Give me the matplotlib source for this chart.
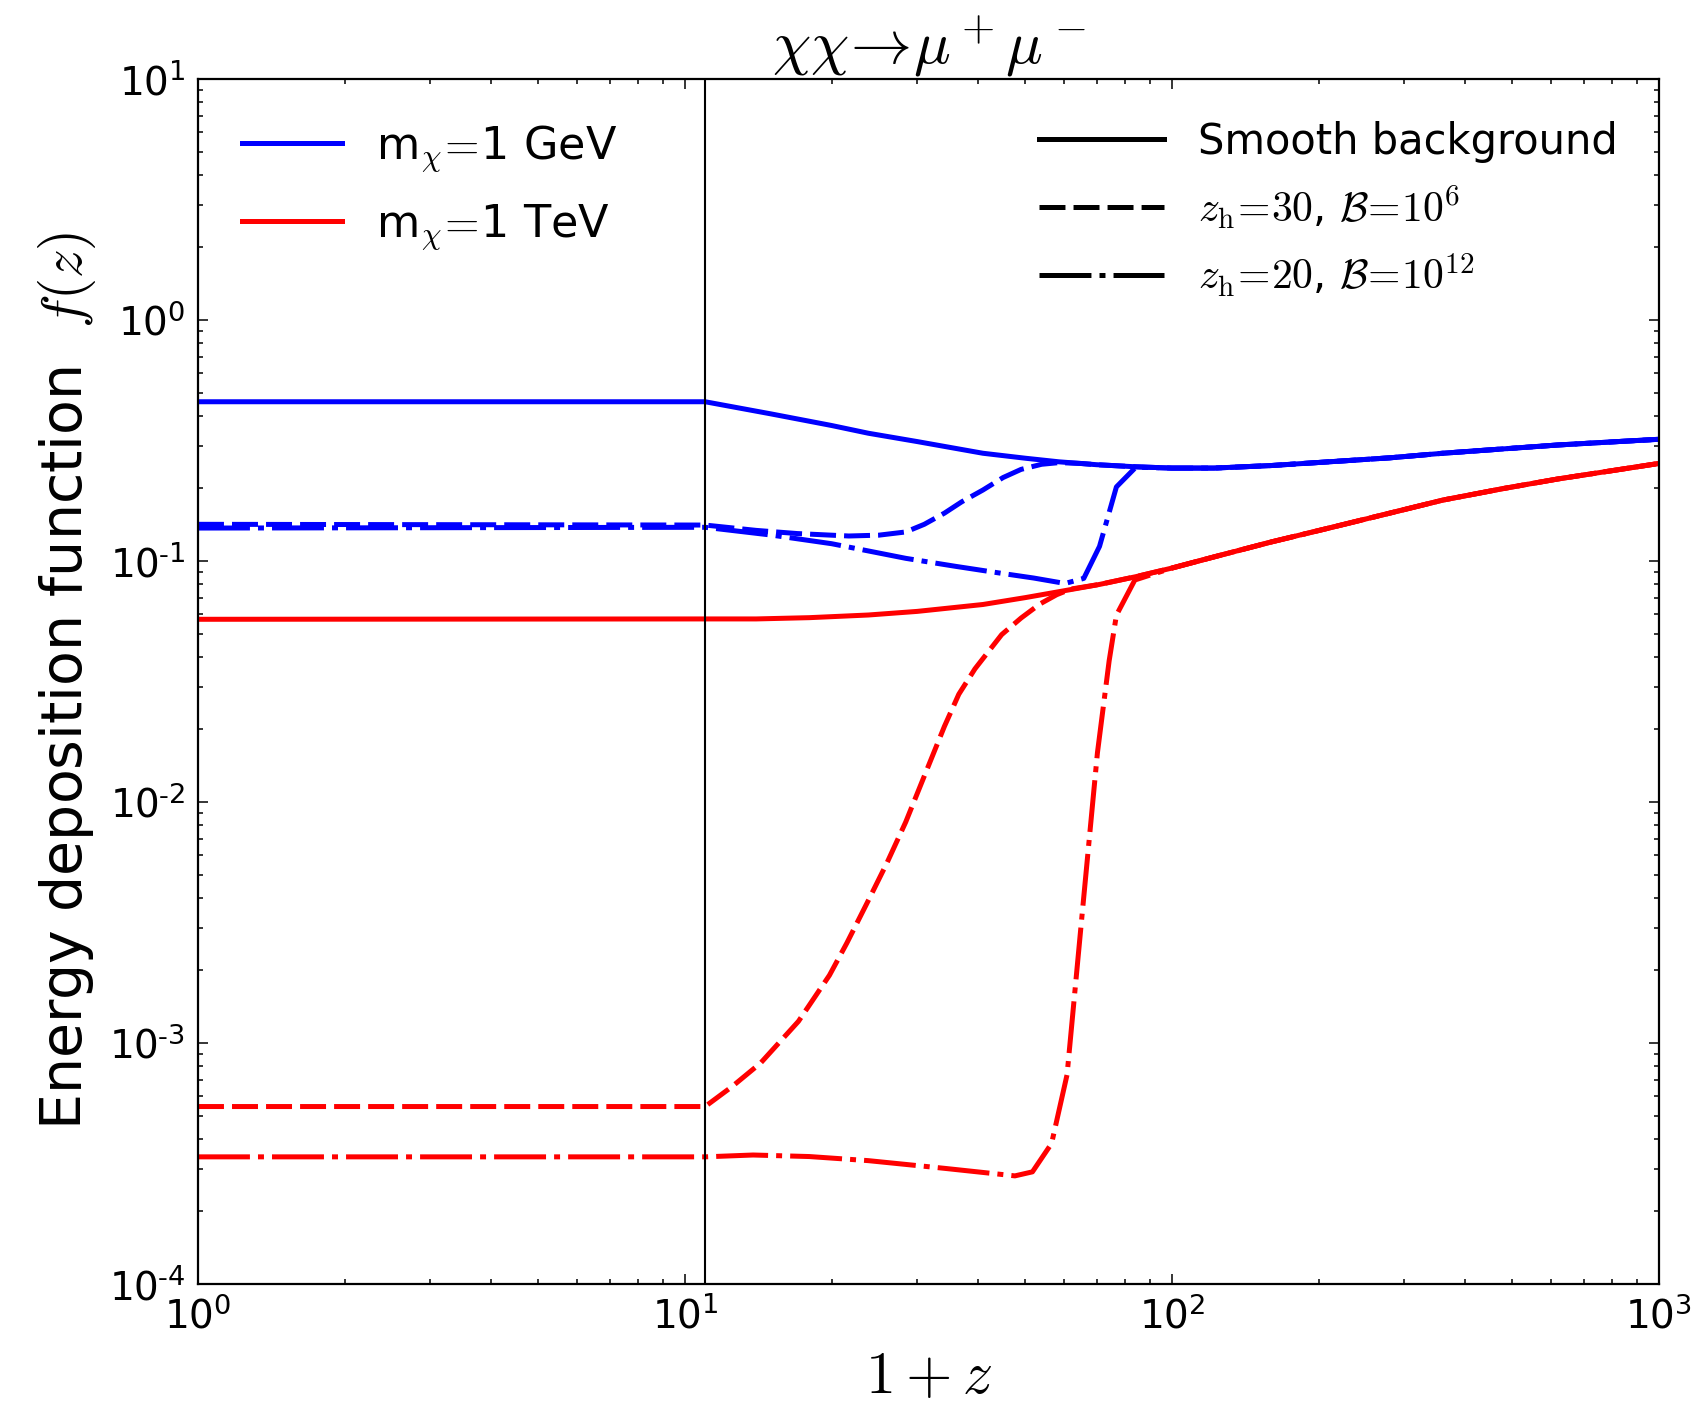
import numpy as np
import matplotlib
matplotlib.use('Agg')
import matplotlib.pyplot as plt
from matplotlib.lines import Line2D
from matplotlib.ticker import FixedLocator, FixedFormatter, LogLocator, NullFormatter

plt.rcParams['mathtext.fontset'] = 'cm'
plt.rcParams['font.family'] = 'DejaVu Sans'
plt.rcParams['lines.scale_dashes'] = False

# 1+z grid and f(z) for each case
x_gev_bg = [1, 11, 15, 20, 23.8, 30, 40.9, 50, 58.6, 70, 84.3, 100, 122, 160, 210, 280, 360, 480,
            620, 800, 1000]
f_gev_bg = [0.458, 0.458, 0.408, 0.365, 0.339, 0.313, 0.280, 0.267, 0.258, 0.251, 0.246, 0.243,
            0.243, 0.249, 0.258, 0.268, 0.280, 0.292, 0.303, 0.312, 0.320]

x_gev_30 = [1, 11, 14, 17, 21.7, 25, 28.4, 31, 34.1, 37, 40.9, 45, 49, 54, 58.6, 65, 70, 84.3,
            100, 122, 160, 210, 280, 360, 480, 620, 800, 1000]
f_gev_30 = [0.142, 0.141, 0.134, 0.130, 0.127, 0.128, 0.132, 0.142, 0.158, 0.176, 0.197, 0.222,
            0.240, 0.252, 0.256, 0.254, 0.251, 0.246, 0.243, 0.243, 0.249, 0.258, 0.268, 0.280,
            0.292, 0.303, 0.312, 0.320]

x_gev_20 = [1, 11, 15.1, 20, 28.4, 36, 45, 52, 60.3, 65.9, 71.0, 76.9, 84.3, 100, 122, 160, 210,
            280, 360, 480, 620, 800, 1000]
f_gev_20 = [0.137, 0.138, 0.128, 0.118, 0.1026, 0.095, 0.0887, 0.085, 0.0807, 0.0847, 0.115,
            0.203, 0.245, 0.243, 0.243, 0.249, 0.258, 0.268, 0.280, 0.292, 0.303, 0.312, 0.320]

x_tev_bg = [1, 11, 14, 18, 23.8, 30, 40.9, 50, 58.6, 71.1, 84.3, 100, 122, 160, 210, 280, 360,
            480, 620, 800, 1000]
f_tev_bg = [0.0573, 0.0575, 0.0575, 0.0582, 0.0597, 0.0618, 0.0660, 0.0705, 0.0746, 0.0800,
            0.0861, 0.0935, 0.104, 0.120, 0.137, 0.158, 0.179, 0.200, 0.219, 0.237, 0.254]

x_tev_30 = [1, 11, 12.5, 14.3, 17.1, 19.8, 21.5, 23.7, 26, 28.4, 31, 34.1, 36.5, 39.4, 44.7, 49,
            53.6, 58, 62, 71.1, 84.3, 100, 122, 160, 210, 280, 360, 480, 620, 800, 1000]
f_tev_30 = [5.45e-4, 5.45e-4, 6.6e-4, 8.26e-4, 1.23e-3, 1.91e-3, 2.6e-3, 3.84e-3, 5.6e-3, 8.26e-3,
            0.0128, 0.0206, 0.028, 0.0357, 0.0495, 0.058, 0.0664, 0.0725, 0.0765, 0.0800, 0.0861,
            0.0935, 0.104, 0.120, 0.137, 0.158, 0.179, 0.200, 0.219, 0.237, 0.254]

x_tev_20 = [1, 11, 13.8, 18, 23.8, 34.1, 47.6, 51.7, 56.6, 60.9, 65.4, 70.3, 74.3, 76.9, 83.9,
            100, 122, 160, 210, 280, 360, 480, 620, 800, 1000]
f_tev_20 = [3.37e-4, 3.37e-4, 3.43e-4, 3.38e-4, 3.25e-4, 3.02e-4, 2.81e-4, 2.92e-4, 3.83e-4,
            7.39e-4, 3.43e-3, 0.0160, 0.0385, 0.0596, 0.0834, 0.0935, 0.104, 0.120, 0.137, 0.158,
            0.179, 0.200, 0.219, 0.237, 0.254]

z_start = 11
mass_labels = [r'm$_\chi\!=\!$1 GeV', r'm$_\chi\!=\!$1 TeV']
style_labels = ['Smooth background', r'$z_{\rm h}\!=\!30$, $\mathcal{B}\!=\!10^6$',
                r'$z_{\rm h}\!=\!20$, $\mathcal{B}\!=\!10^{12}$']
x_exps = [0, 1, 2, 3]
y_exps = [-4, -3, -2, -1, 0, 1]

DASH = (18.7, 5.8)
DASHDOT = (37.4, 5.8, 4.3, 5.8)
lw = 3.6

fig = plt.figure(figsize=(16.98, 14.11), dpi=100)
ax = fig.add_axes([0.1166, 0.0900, 0.8604, 0.8540])

ax.plot(x_gev_bg, f_gev_bg, color='b', lw=lw)
ax.plot(x_gev_30, f_gev_30, color='b', lw=lw, dashes=DASH)
ax.plot(x_gev_20, f_gev_20, color='b', lw=lw, dashes=DASHDOT)
ax.plot(x_tev_bg, f_tev_bg, color='r', lw=lw)
ax.plot(x_tev_30, f_tev_30, color='r', lw=lw, dashes=DASH)
ax.plot(x_tev_20, f_tev_20, color='r', lw=lw, dashes=DASHDOT)
ax.axvline(z_start, color='k', lw=1.5)

ax.set_xscale('log')
ax.set_yscale('log')
ax.set_xlim(1, 1000)
ax.set_ylim(1e-4, 10)

def lab(e):
    if e < 0:
        return r'$\mathregular{10^{\text{-}%d}}$' % (-e)
    return r'$\mathregular{10^{%d}}$' % e

ax.xaxis.set_major_locator(FixedLocator([10.0 ** e for e in x_exps]))
ax.xaxis.set_major_formatter(FixedFormatter([lab(e) for e in x_exps]))
ax.yaxis.set_major_locator(FixedLocator([10.0 ** e for e in y_exps]))
ax.yaxis.set_major_formatter(FixedFormatter([lab(e) for e in y_exps]))
for a in (ax.xaxis, ax.yaxis):
    a.set_minor_locator(LogLocator(base=10, subs=np.arange(2, 10), numticks=20))
    a.set_minor_formatter(NullFormatter())

ax.tick_params(which='both', direction='in', top=True, right=True, width=1.1)
ax.tick_params(which='major', length=7.5, labelsize=28, pad=9)
ax.tick_params(which='minor', length=3.8)
for s in ax.spines.values():
    s.set_linewidth(1.6)

ax.set_xlabel(r'$1+z$', fontsize=43, labelpad=8)
ax.set_ylabel(r'Energy deposition function  $f(z)$', fontsize=41, labelpad=8)
ax.set_title(r'$\chi\chi\!\rightarrow\!\mu^+\mu^-$', fontsize=44, pad=-2)

h_mass = [Line2D([], [], color='b', lw=lw), Line2D([], [], color='r', lw=lw)]
leg1 = ax.legend(h_mass, mass_labels, loc='upper left', frameon=False, fontsize=32,
                 handlelength=2.25, labelspacing=0.65, borderaxespad=0.6, handletextpad=0.75)
ax.add_artist(leg1)

h_style = [Line2D([], [], color='k', lw=lw),
           Line2D([], [], color='k', lw=lw, dashes=DASH),
           Line2D([], [], color='k', lw=lw, dashes=DASHDOT)]
ax.legend(h_style, style_labels, loc='upper right', frameon=False, fontsize=30,
          handlelength=3.0, labelspacing=0.5, borderaxespad=0.6, handletextpad=0.8)

fig.savefig('out.png', dpi=100)
